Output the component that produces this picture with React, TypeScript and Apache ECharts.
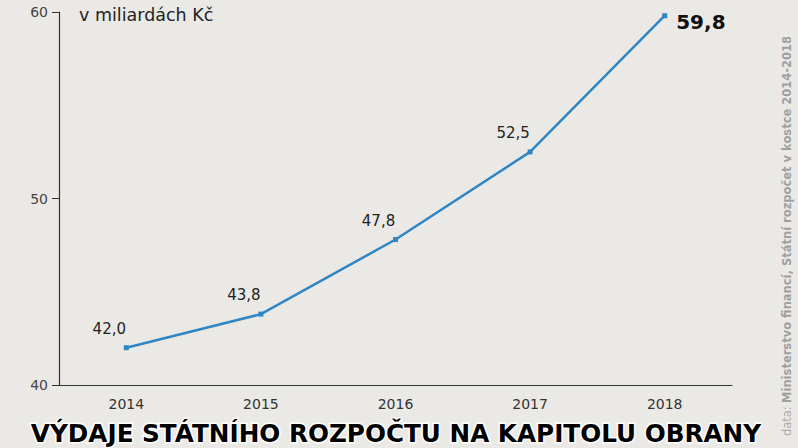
import React, { useEffect, useRef } from "react";
import * as echarts from "echarts";

const years = ["2014", "2015", "2016", "2017", "2018"];
const spending = [42.0, 43.8, 47.8, 52.5, 59.8];
const unitLabel = "v miliardách Kč";
const title = "VÝDAJE STÁTNÍHO ROZPOČTU NA KAPITOLU OBRANY";
const sourcePrefix = "data:";
const sourceText = "Ministerstvo financí, Státní rozpočet v kostce 2014-2018";

const FONT = "'DejaVu Sans', sans-serif";

export default function App() {
  const ref = useRef<HTMLDivElement>(null);
  useEffect(() => {
    const chart = echarts.init(ref.current!, null, { renderer: "svg" });
    const last = spending.length - 1;
    chart.setOption({
      animation: false,
      backgroundColor: "#ebe9e6",
      grid: { left: 59, right: 66, top: 12, bottom: 63 },
      xAxis: {
        type: "category",
        data: years,
        boundaryGap: true,
        axisLine: { lineStyle: { color: "#333", width: 1.2 } },
        axisTick: { inside: true, length: 9, lineStyle: { color: "#333" } },
        axisLabel: { color: "#333", fontSize: 14, fontFamily: FONT, margin: 12 },
      },
      yAxis: {
        type: "value",
        min: 40,
        max: 60,
        interval: 10,
        splitLine: { show: false },
        axisLine: { show: true, lineStyle: { color: "#333", width: 1.2 } },
        axisTick: { show: true, length: 7, lineStyle: { color: "#333" } },
        axisLabel: { color: "#444", fontSize: 14, fontFamily: FONT, margin: 11 },
      },
      series: [
        {
          type: "line",
          data: spending.map((v, i) =>
            i === last
              ? {
                  value: v,
                  label: {
                    position: "right",
                    offset: [4, 6],
                    fontSize: 20,
                    fontWeight: "bold",
                    color: "#111",
                  },
                }
              : v
          ),
          symbol: "rect",
          symbolSize: 5,
          lineStyle: { color: "#2f86c3", width: 2.5 },
          itemStyle: { color: "#2f86c3" },
          label: {
            show: true,
            position: "top",
            offset: [-17, -4],
            fontSize: 15,
            fontFamily: FONT,
            color: "#222",
            formatter: (p: any) => Number(p.value).toFixed(1).replace(".", ","),
          },
        },
      ],
      graphic: [
        {
          type: "text",
          left: 79,
          top: 6,
          style: { text: unitLabel, fontSize: 17.5, fontFamily: FONT, fill: "#222" },
        },
        {
          type: "text",
          x: 396,
          y: 433,
          style: {
            text: title,
            fontSize: 24.7,
            fontWeight: "bold",
            fontFamily: FONT,
            fill: "#000",
            stroke: "#fff",
            lineWidth: 3,
            align: "center",
            verticalAlign: "middle",
          },
          z: 10,
        },
        {
          type: "text",
          x: 787,
          y: 236,
          rotation: Math.PI / 2,
          style: {
            text: `{a|${sourcePrefix}} {b|${sourceText}}`,
            align: "center",
            verticalAlign: "middle",
            rich: {
              a: { fontSize: 11.5, fontFamily: FONT, fill: "#ababab", fontWeight: "normal" },
              b: { fontSize: 11.5, fontFamily: FONT, fill: "#a0a0a0", fontWeight: "bold" },
            },
          },
        },
      ],
    });
    return () => chart.dispose();
  }, []);
  return (
    <div
      ref={ref}
      style={{ position: "fixed", left: 0, top: 0, width: 798, height: 448 }}
    />
  );
}
